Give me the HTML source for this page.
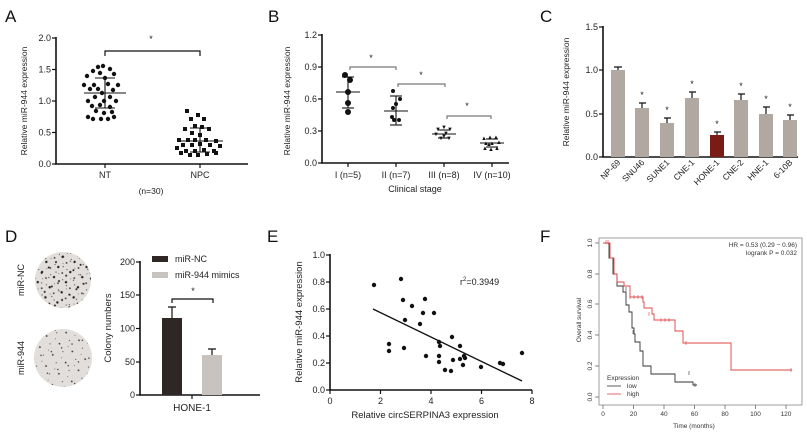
<!DOCTYPE html>
<html><head><meta charset="utf-8"><style>
html,body{margin:0;padding:0;background:#fff}
svg{display:block;font-family:"Liberation Sans",Arial,sans-serif}
</style></head><body>
<svg width="807" height="437" viewBox="0 0 807 437" xmlns="http://www.w3.org/2000/svg">
<defs>
<pattern id="dots" width="13" height="11" patternUnits="userSpaceOnUse" patternTransform="rotate(23)">
<circle cx="2" cy="3" r="1.2" fill="#222"/><circle cx="8" cy="7" r="0.9" fill="#333"/><circle cx="11" cy="2" r="0.6" fill="#555"/><circle cx="5" cy="9" r="0.5" fill="#666"/>
</pattern>
<pattern id="dotsb" width="9" height="17" patternUnits="userSpaceOnUse" patternTransform="rotate(-37)">
<circle cx="4" cy="5" r="1.0" fill="#222"/><circle cx="7" cy="13" r="0.6" fill="#444"/>
</pattern>
<pattern id="dots2" width="15" height="13" patternUnits="userSpaceOnUse" patternTransform="rotate(31)">
<circle cx="3" cy="4" r="0.9" fill="#333"/><circle cx="10" cy="9" r="0.6" fill="#555"/><circle cx="12" cy="2" r="0.5" fill="#666"/>
</pattern>
<pattern id="dots2b" width="11" height="19" patternUnits="userSpaceOnUse" patternTransform="rotate(-20)">
<circle cx="5" cy="6" r="0.7" fill="#333"/>
</pattern>
</defs>
<g font-size="17" fill="#111"><text x="5" y="22">A</text><text x="268" y="22">B</text><text x="540" y="22">C</text><text x="5" y="242">D</text><text x="267" y="242">E</text><text x="540" y="242">F</text></g>

<!-- Panel A -->
<g font-size="9" fill="#222" stroke="none">
<line x1="56" y1="37" x2="56" y2="164" stroke="#111" stroke-width="1.6"/>
<line x1="55" y1="164" x2="248" y2="164" stroke="#111" stroke-width="1.6"/>
<g stroke="#111" stroke-width="1.2"><line x1="52" y1="38" x2="56" y2="38"/><line x1="52" y1="69.5" x2="56" y2="69.5"/><line x1="52" y1="101" x2="56" y2="101"/><line x1="52" y1="132.5" x2="56" y2="132.5"/><line x1="52" y1="164" x2="56" y2="164"/><line x1="105" y1="164" x2="105" y2="168"/><line x1="200" y1="164" x2="200" y2="168"/></g>
<g text-anchor="end"><text x="51" y="41">2.0</text><text x="51" y="72.5">1.5</text><text x="51" y="104">1.0</text><text x="51" y="135.5">0.5</text><text x="51" y="167">0.0</text></g>
<text x="105" y="178" text-anchor="middle">NT</text><text x="200" y="178" text-anchor="middle">NPC</text>
<text x="151" y="194" text-anchor="middle" font-size="8.5">(n=30)</text>
<text transform="translate(27,101) rotate(-90)" text-anchor="middle" font-size="8.5">Relative miR-944 expression</text>
<path d="M105,56 V51 H200 V56" fill="none" stroke="#111" stroke-width="1.2"/>
<text x="151" y="42" text-anchor="middle">*</text>
<g fill="#111">
<circle cx="98" cy="67" r="2.2"/><circle cx="103" cy="66" r="2.2"/><circle cx="93" cy="71" r="2.2"/><circle cx="110" cy="69" r="2.2"/><circle cx="100" cy="73" r="2.2"/><circle cx="114" cy="74" r="2.2"/><circle cx="87" cy="76" r="2.2"/><circle cx="105" cy="78" r="2.2"/><circle cx="84" cy="85" r="2.2"/><circle cx="94" cy="85" r="2.2"/><circle cx="108" cy="84" r="2.2"/><circle cx="118" cy="85" r="2.2"/><circle cx="90" cy="89" r="2.2"/><circle cx="98" cy="89" r="2.2"/><circle cx="113" cy="90" r="2.2"/><circle cx="102" cy="93" r="2.2"/><circle cx="95" cy="97" r="2.2"/><circle cx="110" cy="97" r="2.2"/><circle cx="88" cy="101" r="2.2"/><circle cx="104" cy="101" r="2.2"/><circle cx="116" cy="101" r="2.2"/><circle cx="92" cy="106" r="2.2"/><circle cx="100" cy="105" r="2.2"/><circle cx="110" cy="107" r="2.2"/><circle cx="96" cy="111" r="2.2"/><circle cx="104" cy="113" r="2.2"/><circle cx="88" cy="117" r="2.2"/><circle cx="114" cy="117" r="2.2"/><circle cx="93" cy="119" r="2.2"/><circle cx="101" cy="119" r="2.2"/><circle cx="108" cy="119" r="2.2"/><circle cx="112" cy="112" r="2.2"/>
<g>
<rect x="185" y="109" width="4" height="4"/><rect x="196" y="113" width="4" height="4"/><rect x="189" y="117" width="4" height="4"/><rect x="202" y="117" width="4" height="4"/><rect x="193" y="124" width="4" height="4"/><rect x="200" y="125" width="4" height="4"/><rect x="183" y="127" width="4" height="4"/><rect x="207" y="127" width="4" height="4"/><rect x="190" y="131" width="4" height="4"/><rect x="198" y="133" width="4" height="4"/><rect x="177" y="138" width="4" height="4"/><rect x="186" y="138" width="4" height="4"/><rect x="193" y="138" width="4" height="4"/><rect x="204" y="138" width="4" height="4"/><rect x="214" y="139" width="4" height="4"/><rect x="181" y="143" width="4" height="4"/><rect x="190" y="143" width="4" height="4"/><rect x="198" y="142" width="4" height="4"/><rect x="208" y="143" width="4" height="4"/><rect x="218" y="144" width="4" height="4"/><rect x="175" y="146" width="4" height="4"/><rect x="184" y="149" width="4" height="4"/><rect x="193" y="149" width="4" height="4"/><rect x="202" y="148" width="4" height="4"/><rect x="212" y="149" width="4" height="4"/><rect x="179" y="151" width="4" height="4"/><rect x="188" y="153" width="4" height="4"/><rect x="196" y="153" width="4" height="4"/><rect x="205" y="152" width="4" height="4"/><rect x="214" y="151" width="4" height="4"/>
</g>
</g>
<g stroke="#111" stroke-width="1.1"><line x1="84" y1="93" x2="126" y2="93"/><line x1="95" y1="78" x2="115" y2="78"/><line x1="95" y1="108" x2="115" y2="108"/><line x1="105" y1="78" x2="105" y2="108"/>
<line x1="177" y1="141" x2="223" y2="141"/><line x1="190" y1="128" x2="210" y2="128"/><line x1="190" y1="152" x2="210" y2="152"/><line x1="200" y1="128" x2="200" y2="152"/></g>
</g>

<!-- Panel B -->
<g font-size="9" fill="#222">
<line x1="322" y1="34" x2="322" y2="163" stroke="#111" stroke-width="1.6"/>
<line x1="321" y1="163" x2="509" y2="163" stroke="#111" stroke-width="1.6"/>
<g stroke="#111" stroke-width="1.2"><line x1="318" y1="35" x2="322" y2="35"/><line x1="318" y1="67" x2="322" y2="67"/><line x1="318" y1="99" x2="322" y2="99"/><line x1="318" y1="131" x2="322" y2="131"/><line x1="318" y1="163" x2="322" y2="163"/><line x1="348" y1="163" x2="348" y2="167"/><line x1="396" y1="163" x2="396" y2="167"/><line x1="444" y1="163" x2="444" y2="167"/><line x1="492" y1="163" x2="492" y2="167"/></g>
<g text-anchor="end"><text x="317" y="38">1.2</text><text x="317" y="70">0.9</text><text x="317" y="102">0.6</text><text x="317" y="134">0.3</text><text x="317" y="166">0.0</text></g>
<g text-anchor="middle"><text x="348" y="178">I (n=5)</text><text x="396" y="178">II (n=7)</text><text x="444" y="178">III (n=8)</text><text x="492" y="178">IV (n=10)</text><text x="415" y="192">Clinical stage</text></g>
<text transform="translate(290,101) rotate(-90)" text-anchor="middle" font-size="8.5">Relative miR-944 expression</text>
<g fill="none" stroke="#777" stroke-width="1.2"><path d="M350,70 V67 H396 V70"/><path d="M398,87 V84 H445 V87"/><path d="M447,119 V116 H491 V119"/></g>
<g text-anchor="middle"><text x="371" y="61">*</text><text x="421" y="78">*</text><text x="467" y="109">*</text></g>
<g fill="#111"><circle cx="345" cy="75" r="3"/><circle cx="350" cy="80" r="3"/><circle cx="348" cy="92" r="3"/><circle cx="348" cy="103" r="3"/><circle cx="348" cy="112" r="3"/>
<circle cx="393" cy="91" r="2"/><circle cx="400" cy="99" r="2"/><circle cx="396" cy="104" r="2"/><circle cx="393" cy="108" r="2"/><circle cx="394" cy="120" r="2"/><circle cx="399" cy="120" r="2"/><circle cx="392" cy="117" r="2"/>
<g font-size="6" text-anchor="middle"><text x="438" y="131">▼</text><text x="444" y="129">▼</text><text x="450" y="131">▼</text><text x="436" y="136">▼</text><text x="446" y="135">▼</text><text x="441" y="140">▼</text><text x="449" y="140">▼</text><text x="444" y="138">▼</text>
<text x="484" y="140">▲</text><text x="490" y="139">▲</text><text x="496" y="139">▲</text><text x="486" y="145">▲</text><text x="492" y="145">▲</text><text x="499" y="144">▲</text><text x="485" y="150">▲</text><text x="491" y="151">▲</text><text x="497" y="150">▲</text><text x="489" y="146">▲</text></g></g>
<g stroke="#111" stroke-width="1.1"><line x1="336" y1="92" x2="360" y2="92"/><line x1="342" y1="77" x2="354" y2="77"/><line x1="342" y1="108" x2="354" y2="108"/><line x1="348" y1="77" x2="348" y2="108"/>
<line x1="384" y1="111" x2="408" y2="111"/><line x1="390" y1="96" x2="402" y2="96"/><line x1="390" y1="125" x2="402" y2="125"/><line x1="396" y1="96" x2="396" y2="125"/>
<line x1="432" y1="134" x2="456" y2="134"/><line x1="438" y1="130" x2="450" y2="130"/><line x1="438" y1="138" x2="450" y2="138"/>
<line x1="480" y1="143" x2="504" y2="143"/><line x1="486" y1="139" x2="498" y2="139"/><line x1="486" y1="147" x2="498" y2="147"/></g>
</g>

<!-- Panel C -->
<g font-size="9" fill="#222">
<line x1="603" y1="26" x2="603" y2="157" stroke="#111" stroke-width="1.6"/>
<line x1="602" y1="157" x2="798" y2="157" stroke="#111" stroke-width="1.6"/>
<g stroke="#111" stroke-width="1.2"><line x1="599" y1="27" x2="603" y2="27"/><line x1="599" y1="70" x2="603" y2="70"/><line x1="599" y1="114" x2="603" y2="114"/><line x1="599" y1="157" x2="603" y2="157"/></g>
<g text-anchor="end"><text x="598" y="30">1.5</text><text x="598" y="73">1.0</text><text x="598" y="117">0.5</text><text x="598" y="160">0.0</text></g>
<text transform="translate(569,92) rotate(-90)" text-anchor="middle" font-size="8.5">Relative miR-944 expression</text>
<g fill="#b1a9a1">
<rect x="611" y="70" width="14" height="87"/><rect x="635" y="108" width="14" height="49"/><rect x="660" y="123" width="14" height="34"/><rect x="685" y="98" width="14" height="59"/><rect x="734" y="100" width="14" height="57"/><rect x="759" y="114" width="14" height="43"/><rect x="783" y="120" width="14" height="37"/>
</g>
<rect x="710" y="135" width="14" height="22" fill="#7a1c16"/>
<g stroke="#111" stroke-width="1.2" fill="none">
<path d="M618,70 V67 M614,67 H622"/><path d="M642,108 V103 M639,103 H646"/><path d="M667,123 V118 M664,118 H671"/><path d="M692,98 V92 M689,92 H696"/><path d="M717,135 V132 M714,132 H721"/><path d="M741,100 V94 M738,94 H745"/><path d="M766,114 V107 M763,107 H770"/><path d="M790,120 V115 M787,115 H794"/>
</g>
<g text-anchor="middle"><text x="642" y="98">*</text><text x="667" y="113">*</text><text x="692" y="87">*</text><text x="717" y="127">*</text><text x="741" y="89">*</text><text x="766" y="102">*</text><text x="790" y="110">*</text></g>
<g text-anchor="end" font-size="8.5">
<text transform="translate(621,163) rotate(-45)">NP-69</text><text transform="translate(645,163) rotate(-45)">SNU46</text><text transform="translate(670,163) rotate(-45)">SUNE1</text><text transform="translate(695,163) rotate(-45)">CNE-1</text><text transform="translate(720,163) rotate(-45)">HONE-1</text><text transform="translate(744,163) rotate(-45)">CNE-2</text><text transform="translate(769,163) rotate(-45)">HNE-1</text><text transform="translate(793,163) rotate(-45)">6-10B</text>
</g>
</g>

<!-- Panel D -->
<g font-size="9" fill="#222">
<circle cx="63" cy="280" r="28" fill="#e2dedb"/><circle cx="63" cy="280" r="28" fill="url(#dots)"/><circle cx="63" cy="280" r="28" fill="url(#dotsb)"/>
<circle cx="63" cy="358" r="29" fill="#e2dedb"/><circle cx="63" cy="358" r="29" fill="url(#dots2)"/><circle cx="63" cy="358" r="29" fill="url(#dots2b)"/>
<text transform="translate(24,280) rotate(-90)" text-anchor="middle">miR-NC</text>
<text transform="translate(24,358) rotate(-90)" text-anchor="middle">miR-944</text>
<line x1="140" y1="261" x2="140" y2="395" stroke="#111" stroke-width="1.6"/>
<line x1="139" y1="395" x2="260" y2="395" stroke="#111" stroke-width="1.6"/>
<g stroke="#111" stroke-width="1.2"><line x1="136" y1="262" x2="140" y2="262"/><line x1="136" y1="295" x2="140" y2="295"/><line x1="136" y1="328.5" x2="140" y2="328.5"/><line x1="136" y1="362" x2="140" y2="362"/><line x1="136" y1="395" x2="140" y2="395"/><line x1="192" y1="395" x2="192" y2="399"/></g>
<g text-anchor="end"><text x="135" y="265">200</text><text x="135" y="298">150</text><text x="135" y="331.5">100</text><text x="135" y="365">50</text><text x="135" y="398">0</text></g>
<text transform="translate(111,328) rotate(-90)" text-anchor="middle" font-size="9.5">Colony numbers</text>
<rect x="162" y="318" width="20" height="77" fill="#2f2626"/>
<rect x="202" y="355" width="20" height="40" fill="#c9c3bf"/>
<g stroke="#111" stroke-width="1.2"><path d="M172,318 V307 M168,307 H176"/><path d="M212,355 V349 M208,349 H216"/></g>
<path d="M172,303 V299 H213 V303" fill="none" stroke="#111" stroke-width="1.2"/>
<text x="193" y="294" text-anchor="middle">*</text>
<rect x="152" y="256" width="16" height="6" fill="#2f2626"/><text x="175" y="262">miR-NC</text>
<rect x="152" y="272" width="16" height="6" fill="#c9c3bf"/><text x="175" y="278">miR-944 mimics</text>
<text x="192" y="411" text-anchor="middle" font-size="10">HONE-1</text>
</g>

<!-- Panel E -->
<g font-size="9" fill="#222">
<line x1="330" y1="254" x2="330" y2="390" stroke="#111" stroke-width="1.6"/>
<line x1="329" y1="390" x2="532" y2="390" stroke="#111" stroke-width="1.6"/>
<g stroke="#111" stroke-width="1.2"><line x1="326" y1="255" x2="330" y2="255"/><line x1="326" y1="282" x2="330" y2="282"/><line x1="326" y1="309" x2="330" y2="309"/><line x1="326" y1="336" x2="330" y2="336"/><line x1="326" y1="363" x2="330" y2="363"/><line x1="326" y1="390" x2="330" y2="390"/>
<line x1="330" y1="390" x2="330" y2="394"/><line x1="380.5" y1="390" x2="380.5" y2="394"/><line x1="431" y1="390" x2="431" y2="394"/><line x1="481.5" y1="390" x2="481.5" y2="394"/><line x1="532" y1="390" x2="532" y2="394"/></g>
<g text-anchor="end"><text x="325" y="258">1.0</text><text x="325" y="285">0.8</text><text x="325" y="312">0.6</text><text x="325" y="339">0.4</text><text x="325" y="366">0.2</text><text x="325" y="393">0.0</text></g>
<g text-anchor="middle"><text x="330" y="404">0</text><text x="380.5" y="404">2</text><text x="431" y="404">4</text><text x="481.5" y="404">6</text><text x="532" y="404">8</text>
<text x="425" y="418" font-size="9.5">Relative circSERPINA3 expression</text></g>
<text transform="translate(302,322) rotate(-90)" text-anchor="middle" font-size="9.5">Relative miR-944 expression</text>
<text x="460" y="285">r<tspan font-size="6" dy="-4">2</tspan><tspan dy="4">=0.3949</tspan></text>
<line x1="373" y1="309" x2="522" y2="381" stroke="#111" stroke-width="1.4"/>
<g fill="#111">
<circle cx="374" cy="285" r="2.2"/><circle cx="401" cy="279" r="2.2"/><circle cx="403" cy="300" r="2.2"/><circle cx="425" cy="299" r="2.2"/><circle cx="412" cy="306" r="2.2"/><circle cx="423" cy="313" r="2.2"/><circle cx="434" cy="313" r="2.2"/><circle cx="405" cy="320" r="2.2"/><circle cx="420" cy="324" r="2.2"/><circle cx="389" cy="344" r="2.2"/><circle cx="389" cy="351" r="2.2"/><circle cx="404" cy="348" r="2.2"/><circle cx="439" cy="342" r="2.2"/><circle cx="440" cy="346" r="2.2"/><circle cx="426" cy="356" r="2.2"/><circle cx="439" cy="356" r="2.2"/><circle cx="439" cy="362" r="2.2"/><circle cx="445" cy="370" r="2.2"/><circle cx="452" cy="337" r="2.2"/><circle cx="453" cy="360" r="2.2"/><circle cx="460" cy="359" r="2.2"/><circle cx="451" cy="371" r="2.2"/><circle cx="460" cy="346" r="2.2"/><circle cx="463" cy="365" r="2.2"/><circle cx="464" cy="356" r="2.2"/><circle cx="465" cy="358" r="2.2"/><circle cx="481" cy="367" r="2.2"/><circle cx="500" cy="363" r="2.2"/><circle cx="503" cy="364" r="2.2"/><circle cx="522" cy="353" r="2.2"/>
</g>
</g>

<!-- Panel F -->
<g font-size="6.5" fill="#333">
<rect x="599" y="238" width="203" height="167" fill="none" stroke="#888" stroke-width="0.8"/>
<g stroke="#555" stroke-width="0.7">
<line x1="603" y1="405" x2="603" y2="409"/><line x1="633.5" y1="405" x2="633.5" y2="409"/><line x1="664" y1="405" x2="664" y2="409"/><line x1="694.5" y1="405" x2="694.5" y2="409"/><line x1="725" y1="405" x2="725" y2="409"/><line x1="755.5" y1="405" x2="755.5" y2="409"/><line x1="786" y1="405" x2="786" y2="409"/>
<line x1="595" y1="243" x2="599" y2="243"/><line x1="595" y1="274" x2="599" y2="274"/><line x1="595" y1="304" x2="599" y2="304"/><line x1="595" y1="335" x2="599" y2="335"/><line x1="595" y1="366" x2="599" y2="366"/><line x1="595" y1="397" x2="599" y2="397"/></g>
<g text-anchor="middle"><text x="603" y="416">0</text><text x="633.5" y="416">20</text><text x="664" y="416">40</text><text x="694.5" y="416">60</text><text x="725" y="416">80</text><text x="755.5" y="416">100</text><text x="786" y="416">120</text>
<text x="694" y="428">Time (months)</text>
<text transform="translate(592,243) rotate(-90)">1.0</text><text transform="translate(592,274) rotate(-90)">0.8</text><text transform="translate(592,304) rotate(-90)">0.6</text><text transform="translate(592,335) rotate(-90)">0.4</text><text transform="translate(592,366) rotate(-90)">0.2</text><text transform="translate(592,397) rotate(-90)">0.0</text>
<text transform="translate(581,320) rotate(-90)">Overall survival</text></g>
<g text-anchor="end"><text x="797" y="247">HR = 0.53 (0.29 − 0.96)</text><text x="797" y="255">logrank P = 0.032</text></g>
<text x="607" y="380">Expression</text>
<line x1="607" y1="386" x2="621" y2="386" stroke="#333" stroke-width="0.8"/><text x="627" y="388">low</text>
<line x1="607" y1="394" x2="621" y2="394" stroke="#d44" stroke-width="0.8"/><text x="627" y="396">high</text>
<path d="M603,243 H609 V258 H613 V274 H617 V286 H623 V292 H626 V305 H629 V312 H632 V328 H634 V334 H635 V342 H640 V351 H643 V366 H651 V374 H675 V382 H693 V385 H697" fill="none" stroke="#333" stroke-width="0.9"/>
<path d="M603,243 H610 V258 H614 V274 H617 V282 H624 V286 H630 V297 H643 V302 H644 V308 H652 V314 H654 V320 H675 V331 H683 V343 H731 V370 H792" fill="none" stroke="#d44" stroke-width="0.9"/>
<g fill="none" stroke="#d44" stroke-width="0.6"><path d="M606,240 v4 M608,240 v4 M630,295 v4 M634,295 v4 M638,295 v4 M642,295 v4 M649,312 v4 M661,318 v4 M665,318 v4 M669,318 v4 M686,341 v4 M791,368 v4"/></g>
<g fill="none" stroke="#333" stroke-width="0.6"><path d="M613,260 v4 M626,287 v4 M633,330 v4 M689,371 v4 M695,383 v4"/></g>
</g>
</svg>
</body></html>
